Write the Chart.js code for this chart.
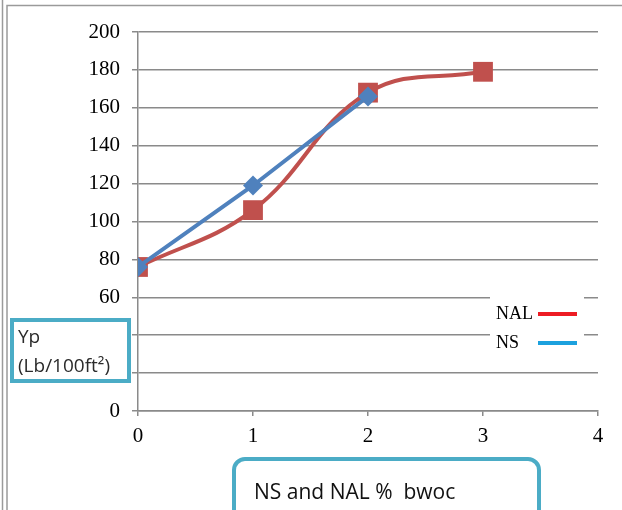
<!DOCTYPE html>
<html>
<head>
<meta charset="utf-8">
<script src="https://cdn.jsdelivr.net/npm/chart.js@4"></script>
<style>
  html, body { margin: 0; padding: 0; background: #fff; }
  #wrap { position: relative; width: 622px; height: 510px; }
</style>
</head>
<body>
<div id="wrap"><canvas id="chart" width="622" height="510"></canvas></div>
<script>
// values
const xValues = [0, 1, 2, 3];
const nalValues = [76, 106, 168, 179];
const nsValues = [76, 119, 166];
const yTicks = [0, 20, 40, 60, 80, 100, 120, 140, 160, 180, 200];
const xTicks = [0, 1, 2, 3, 4];
const seriesNames = ["NAL", "NS"];
const yTitle = ["Yp", "(Lb/100ft\u00B2)"];
const xTitle = "NS and NAL %  bwoc";

const toPoints = (vals) => vals.map((v, i) => ({x: xValues[i], y: v}));

// frame, legend and the two title boxes
const decorations = {
    id: "decorations",
    afterDraw(chart) {
        const ctx = chart.ctx;
        ctx.save();

        // outer frame lines
        ctx.strokeStyle = "#9a9a9a";
        ctx.lineWidth = 1.5;
        ctx.beginPath();
        ctx.moveTo(2.5, 0); ctx.lineTo(2.5, 510);
        ctx.moveTo(7, 510); ctx.lineTo(7, 5.5); ctx.lineTo(622, 5.5);
        ctx.stroke();

        // legend
        ctx.fillStyle = "#fff";
        ctx.fillRect(490, 291, 94, 62);
        ctx.font = "18px 'Liberation Serif'";
        ctx.fillStyle = "#000";
        ctx.textBaseline = "middle";
        ctx.fillText(seriesNames[0], 496, 314);
        ctx.fillText(seriesNames[1], 496, 343);
        ctx.lineWidth = 4;
        ctx.strokeStyle = "#ed1c24";
        ctx.beginPath(); ctx.moveTo(538, 314); ctx.lineTo(577, 314); ctx.stroke();
        ctx.strokeStyle = "#1ca1de";
        ctx.beginPath(); ctx.moveTo(538, 343); ctx.lineTo(577, 343); ctx.stroke();

        // y title box
        ctx.fillStyle = "#fff";
        ctx.fillRect(12, 320, 117, 61);
        ctx.strokeStyle = "#4bacc6";
        ctx.lineWidth = 4;
        ctx.strokeRect(12, 320, 117, 61);
        ctx.fillStyle = "#2b2b2b";
        ctx.font = "19px 'Open Sans'";
        ctx.textBaseline = "middle";
        ctx.fillText(yTitle[0], 18, 338);
        ctx.fillText(yTitle[1], 18, 367);

        // x title box
        ctx.fillStyle = "#fff";
        ctx.strokeStyle = "#4bacc6";
        ctx.lineWidth = 4;
        ctx.beginPath();
        ctx.roundRect(234, 459, 305, 70, 11);
        ctx.fill();
        ctx.stroke();
        ctx.fillStyle = "#111";
        ctx.font = "21px 'Open Sans'";
        ctx.fillText(xTitle, 254, 493);

        ctx.restore();
    }
};

new Chart(document.getElementById("chart"), {
    type: "line",
    data: {
        datasets: [{
            label: seriesNames[0],
            data: toPoints(nalValues),
            borderColor: "#c0504d",
            backgroundColor: "#c0504d",
            borderWidth: 4,
            tension: 0.4,
            pointStyle: "rect",
            pointRadius: 14,
            pointHoverRadius: 14,
            pointBorderWidth: 0,
            order: 2
        }, {
            label: seriesNames[1],
            data: toPoints(nsValues),
            borderColor: "#4f81bd",
            backgroundColor: "#4f81bd",
            borderWidth: 4,
            tension: 0,
            pointStyle: "rectRot",
            pointRadius: 10,
            pointHoverRadius: 10,
            pointBorderWidth: 0,
            order: 1
        }]
    },
    options: {
        responsive: false,
        animation: false,
        layout: {padding: {left: 0, top: 32, right: 24, bottom: 49}},
        plugins: {legend: {display: false}, tooltip: {enabled: false}},
        scales: {
            x: {
                type: "linear",
                min: 0,
                max: 4,
                afterBuildTicks: (s) => { s.ticks = xTicks.map(v => ({value: v})); },
                afterFit: (s) => { s.height = 50; },
                ticks: {
                    color: "#000",
                    font: {family: "'Liberation Serif'", size: 21},
                    padding: 8
                },
                grid: {drawOnChartArea: false, tickLength: 5, color: "#8a8a8a", lineWidth: 1.5},
                border: {color: "#8a8a8a", width: 1.5}
            },
            y: {
                min: 0,
                max: 200,
                afterBuildTicks: (s) => { s.ticks = yTicks.map(v => ({value: v})); },
                afterFit: (s) => { s.width = 138; },
                ticks: {
                    color: "#000",
                    font: {family: "'Liberation Serif'", size: 21},
                    padding: 12
                },
                grid: {tickLength: 6, color: "#8a8a8a", lineWidth: 1.5},
                border: {color: "#8a8a8a", width: 1.5}
            }
        }
    },
    plugins: [decorations]
});
</script>
</body>
</html>
